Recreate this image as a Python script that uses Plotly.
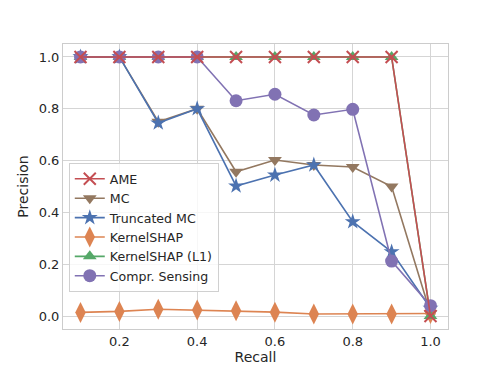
import plotly.graph_objects as go

recall = [0.1, 0.2, 0.3, 0.4, 0.5, 0.6, 0.7, 0.8, 0.9, 1.0]

ame = [1.0, 1.0, 1.0, 1.0, 1.0, 1.0, 1.0, 1.0, 1.0, 0.0]
mc = [1.0, 1.0, 0.75, 0.8, 0.557, 0.602, 0.583, 0.575, 0.5, 0.01]
truncated_mc = [1.0, 1.0, 0.745, 0.8, 0.502, 0.544, 0.583, 0.364, 0.248, 0.03]
kernelshap = [0.014, 0.018, 0.026, 0.023, 0.02, 0.015, 0.008, 0.008, 0.008, 0.01]
kernelshap_l1 = [1.0, 1.0, 1.0, 1.0, 1.0, 1.0, 1.0, 1.0, 1.0, 0.0]
compr_sensing = [1.0, 1.0, 1.0, 1.0, 0.831, 0.856, 0.776, 0.798, 0.212, 0.04]

# name, values, colour, symbol, marker size, draw order
series = [
    ("AME", ame, "#C44E52", "x-thin", 12, 6),
    ("MC", mc, "#937860", "triangle-down", 12, 1),
    ("Truncated MC", truncated_mc, "#4C72B0", "star", 12, 2),
    ("KernelSHAP", kernelshap, "#DD8452", "diamond-tall", 15, 3),
    ("KernelSHAP (L1)", kernelshap_l1, "#55A868", "triangle-up", 12, 4),
    ("Compr. Sensing", compr_sensing, "#8172B3", "circle", 13, 5),
]

fig = go.Figure()
for rank, (name, vals, color, symbol, size, order) in sorted(
        enumerate(series), key=lambda s: s[1][5]):
    marker = dict(symbol=symbol, size=size, color=color)
    if symbol == "x-thin":
        marker["line"] = dict(color=color, width=2)
    else:
        marker["line"] = dict(width=0)
    fig.add_trace(go.Scatter(
        x=recall, y=vals, name=name, mode="lines+markers",
        line=dict(color=color, width=1.6),
        marker=marker, legendrank=rank + 1,
    ))

axis_style = dict(
    showgrid=True, gridcolor="#d5d5d5", gridwidth=1,
    showline=True, linecolor="#cccccc", linewidth=1, mirror=True,
    zeroline=False, ticks="", tickfont=dict(size=13, color="#262626"),
    title_font=dict(size=14, color="#262626"),
)

fig.update_layout(
    width=490, height=366,
    margin=dict(l=55, r=50, t=36, b=45),
    paper_bgcolor="white", plot_bgcolor="white",
    font=dict(family="DejaVu Sans", size=13, color="#262626"),
    xaxis=dict(range=[0.055, 1.045], tickvals=[0.2, 0.4, 0.6, 0.8, 1.0],
               ticktext=["0.2", "0.4", "0.6", "0.8", "1.0"],
               title=dict(text="Recall", standoff=4), **axis_style),
    yaxis=dict(range=[-0.05, 1.05], tickvals=[0.0, 0.2, 0.4, 0.6, 0.8, 1.0],
               ticktext=["0.0", "0.2", "0.4", "0.6", "0.8", "1.0"],
               title=dict(text="Precision", standoff=6), **axis_style),
    legend=dict(x=0.015, y=0.582, xanchor="left", yanchor="top",
                bgcolor="rgba(255,255,255,0.8)", bordercolor="#d0d0d0",
                borderwidth=1, font=dict(size=12.6, color="#262626"),
                tracegroupgap=0, itemwidth=30),
    showlegend=True,
)

fig.write_html("out.html")
